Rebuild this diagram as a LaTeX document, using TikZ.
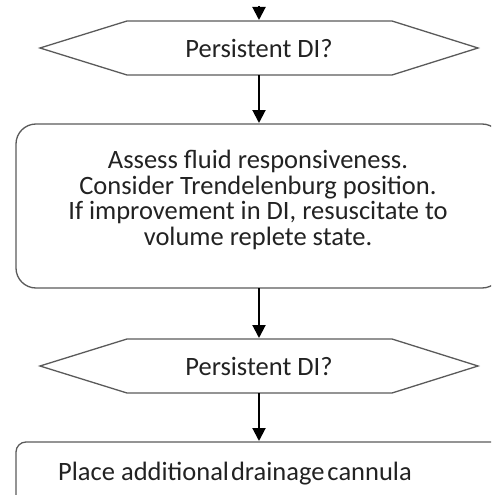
\documentclass[tikz,border=0pt]{standalone}
\usepackage{fontspec}
\setmainfont{Carlito}
\usetikzlibrary{arrows.meta}
\definecolor{edge}{HTML}{5A5A5A}
\definecolor{txt}{HTML}{222222}
\tikzset{
  shapeline/.style={draw=edge, line width=1.3pt},
  flow/.style={line width=2pt, -{Triangle[length=13pt,width=13pt]}, shorten >=1pt},
  lbl/.style={text=txt, font=\fontsize{26.5}{25.5}\selectfont, align=center, inner sep=0pt}
}
\begin{document}
\begin{tikzpicture}[x=1pt,y=-1pt]
\useasboundingbox (0,0) rectangle (491,495);
\clip (0,0) rectangle (491,495);
% first decision
\draw[shapeline] (40,48) -- (127,21) -- (392,21) -- (478,48) -- (392,75) -- (127,75) -- cycle;
\node[lbl] (d1) at (259,48) {Persistent DI?};
\coordinate (d1t) at (259,21);
\coordinate (d1b) at (259,75);
\coordinate (start) at (259,6);
% assess box
\draw[shapeline, rounded corners=20pt] (16,124) rectangle (502,288);
\node[lbl] (assess) at (258,200) {Assess fluid responsiveness.\\Consider Trendelenburg position.\\If improvement in DI, resuscitate to\\volume replete state.};
\coordinate (at) at (259,124);
\coordinate (ab) at (259,288);
% second decision
\draw[shapeline] (40,366) -- (127,339) -- (392,339) -- (478,366) -- (392,393) -- (127,393) -- cycle;
\node[lbl] (d2) at (259,366) {Persistent DI?};
\coordinate (d2t) at (259,339);
\coordinate (d2b) at (259,393);
% drainage box
\draw[shapeline, rounded corners=10pt] (16,442) rectangle (502,530);
\node[lbl] (place) at (235,474) {Place additional\hspace{2pt}drainage\hspace{3pt}cannula};
\coordinate (pt) at (259,442);
% connectors
\draw[flow] (start) -- (d1t);
\draw[flow] (d1b) -- (at);
\draw[flow] (ab) -- (d2t);
\draw[flow] (d2b) -- (pt);
\end{tikzpicture}
\end{document}
